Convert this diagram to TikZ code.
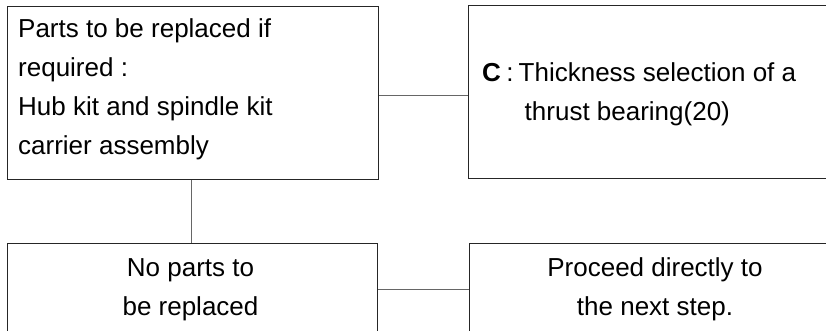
\documentclass[tikz,border=0pt]{standalone}
\usepackage{fontspec}
\setmainfont{Liberation Sans}
\begin{document}
\begin{tikzpicture}[x=1pt,y=-1pt,
  box/.style={draw=black!85,line width=1pt,rectangle,anchor=north west,inner sep=0pt},
  conn/.style={draw=black!60,line width=1pt},
  txt/.style={inner sep=0pt,font=\fontsize{26}{39}\selectfont}]
\useasboundingbox (0,0) rectangle (826,331);
\clip (0,0) rectangle (826,331);
\node[box,minimum width=371pt,minimum height=173pt] (tl) at (7,6) {};
\node[box,minimum width=380pt,minimum height=173pt] (tr) at (468,5) {};
\node[box,minimum width=370pt,minimum height=110pt] (bl) at (7,243) {};
\node[box,minimum width=370pt,minimum height=110pt] (br) at (469,243) {};
% texts
\node[txt,anchor=base west] (t1) at (18,38) {Parts to be replaced if};
\node[txt,anchor=base west] (t2) at (18,77) {required :};
\node[txt,anchor=base west] (t3) at (18,116) {Hub kit and spindle kit};
\node[txt,anchor=base west] (t4) at (18,155) {carrier assembly};
\node[txt,anchor=base west] (t5) at (482,82) {\textbf{C}\hspace{5.5pt}:\hspace{5pt}Thickness selection of a};
\node[txt,anchor=base west] (t6) at (524.5,121) {thrust bearing(20)};
\node[txt,anchor=base] (t7) at (190.5,276) {No parts to};
\node[txt,anchor=base] (t8) at (190.5,315) {be replaced};
\node[txt,anchor=base] (t9) at (655,276) {Proceed directly to};
\node[txt,anchor=base] (t10) at (655,315) {the next step.};
% connectors
\coordinate (hy1) at (0,95.5);
\coordinate (hy2) at (0,289);
\coordinate (vx) at (191,0);
\draw[conn] (tl.east |- hy1) -- (tr.west |- hy1);
\draw[conn] (tl.south -| vx) -- (bl.north -| vx);
\draw[conn] (bl.east |- hy2) -- (br.west |- hy2);
\end{tikzpicture}
\end{document}
